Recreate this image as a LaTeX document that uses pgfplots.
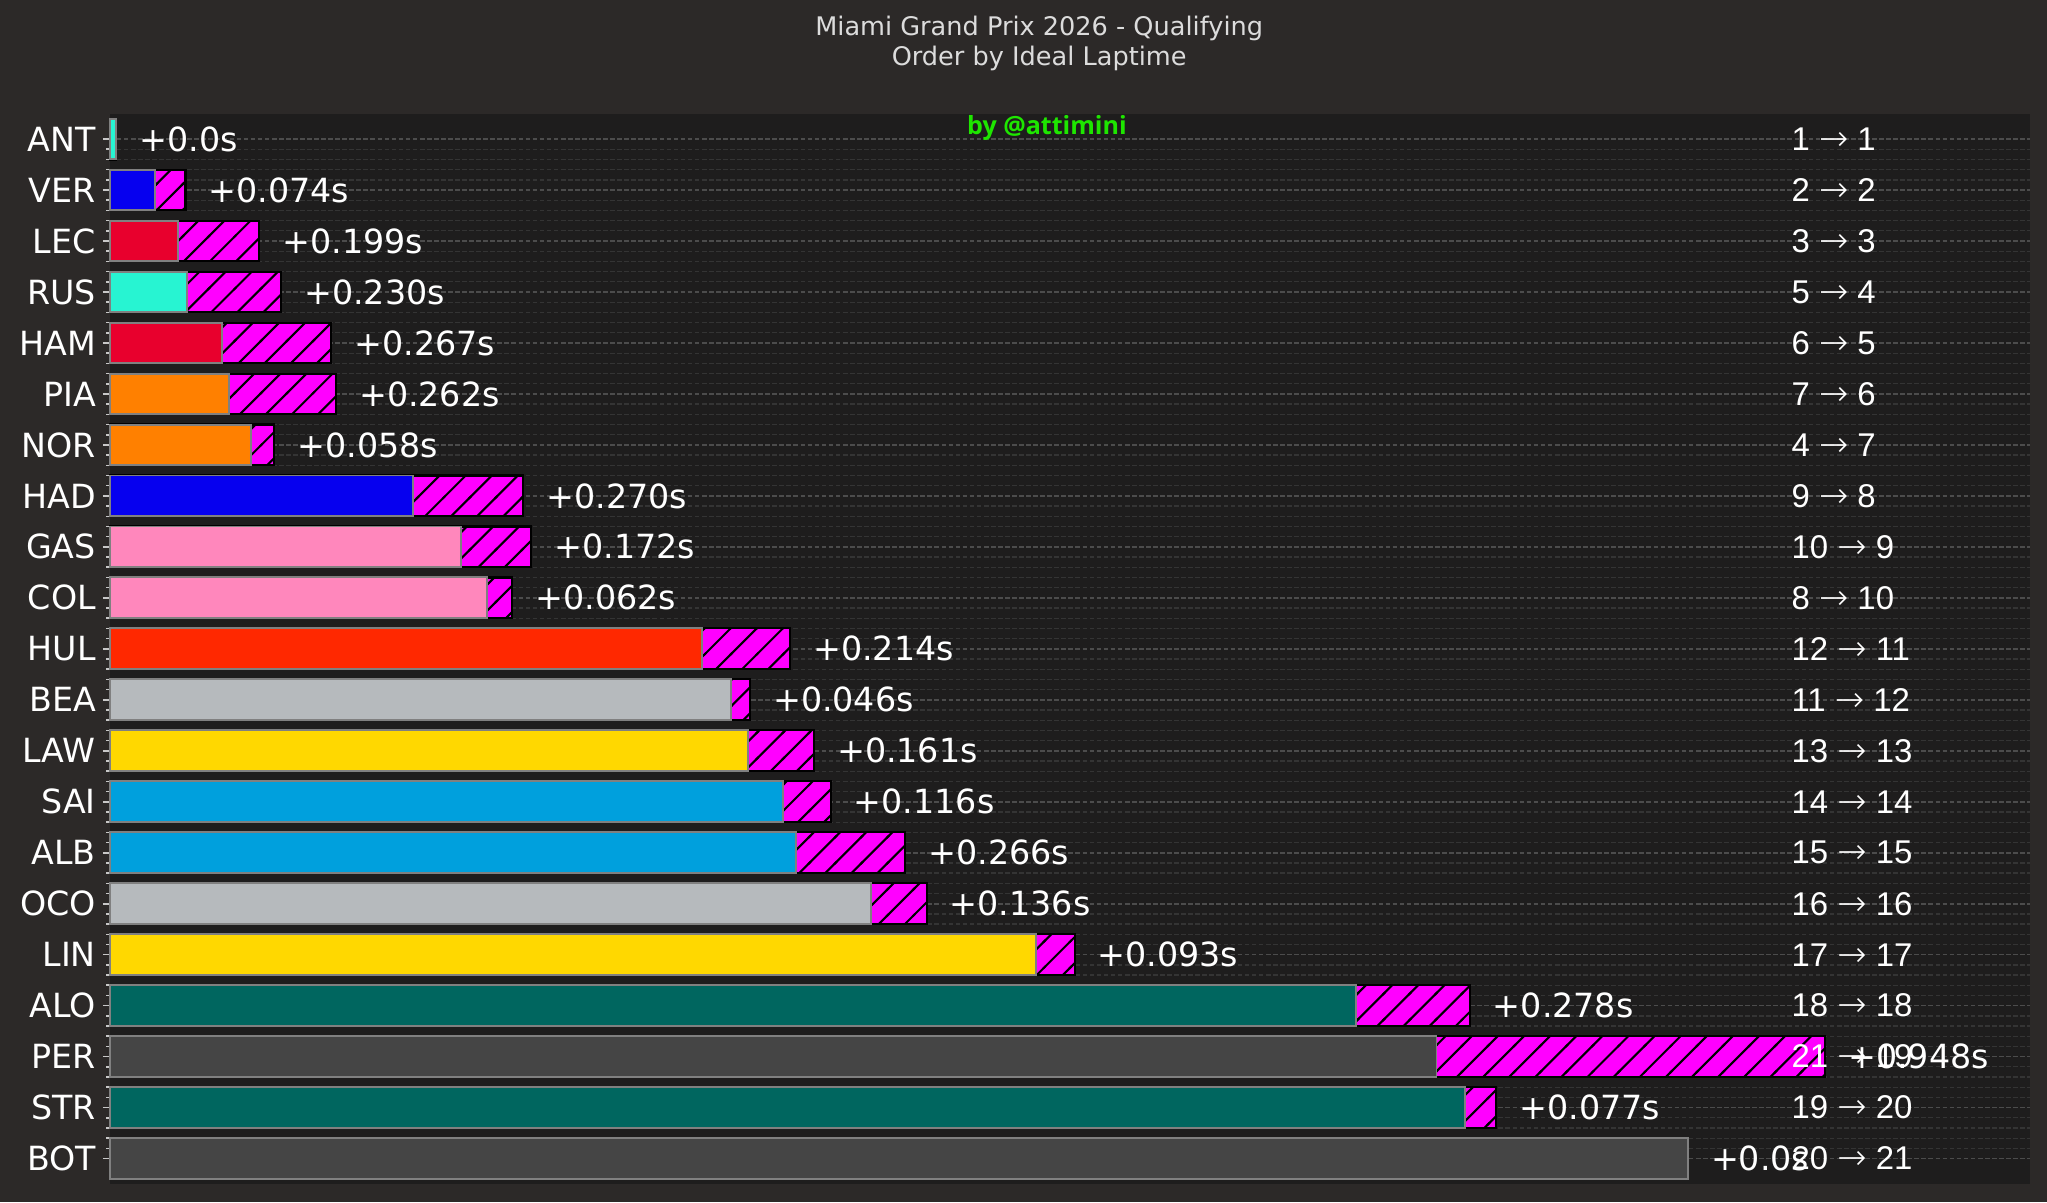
\documentclass[border=0pt]{standalone}
\usepackage{pgfplots}
\pgfplotsset{compat=1.18}
\usepackage{pgfplotstable}
\usetikzlibrary{patterns}
\usepackage{fontspec}
\setmainfont{DejaVu Sans}
\newfontfamily\libsans{Liberation Sans}
\newfontfamily\djx{DejaVu Sans ExtraLight}
\newfontfamily\credfont{Open Sans}
\DeclareRobustCommand{\arr}{{\djx\fontsize{13.4}{15}\selectfont →}}

\definecolor{figbg}{HTML}{2C2928}
\definecolor{axbg}{HTML}{1E1D1D}
\definecolor{gridmaj}{HTML}{4C4C4C}
\definecolor{gridmin}{HTML}{343434}
\definecolor{tickc}{HTML}{C8C8C8}
\definecolor{titlec}{HTML}{DCDCDC}
\definecolor{credit}{HTML}{1EE600}
\definecolor{edgec}{HTML}{808080}
\definecolor{hatchfill}{HTML}{FF00FF}
\definecolor{cMER}{HTML}{27F4D2}
\definecolor{cRBR}{HTML}{0600EF}
\definecolor{cFER}{HTML}{E8002D}
\definecolor{cMCL}{HTML}{FF8000}
\definecolor{cALP}{HTML}{FF87BC}
\definecolor{cAUD}{HTML}{FF2800}
\definecolor{cHAA}{HTML}{B6BABD}
\definecolor{cRB}{HTML}{FFD800}
\definecolor{cWIL}{HTML}{00A0DD}
\definecolor{cAST}{HTML}{00665F}
\definecolor{cCAD}{HTML}{454545}

\pgfdeclarepatternformonly{hatchne}{\pgfqpoint{-1pt}{-1pt}}{\pgfqpoint{11pt}{11pt}}{\pgfqpoint{10pt}{10pt}}{%
  \pgfsetlinewidth{0.8pt}%
  \pgfpathmoveto{\pgfqpoint{-0.5pt}{-0.5pt}}%
  \pgfpathlineto{\pgfqpoint{10.5pt}{10.5pt}}%
  \pgfusepath{stroke}}

% y  base  delta  label
\pgfplotstableread{
y base delta label
0 0.016 0.000 +0.0s
1 0.111 0.074 +0.074s
2 0.166 0.199 +0.199s
3 0.188 0.230 +0.230s
4 0.274 0.267 +0.267s
5 0.290 0.262 +0.262s
6 0.344 0.058 +0.058s
7 0.739 0.270 +0.270s
8 0.857 0.172 +0.172s
9 0.920 0.062 +0.062s
10 1.446 0.214 +0.214s
11 1.516 0.046 +0.046s
12 1.557 0.161 +0.161s
13 1.643 0.116 +0.116s
14 1.675 0.266 +0.266s
15 1.857 0.136 +0.136s
16 2.261 0.093 +0.093s
17 3.040 0.278 +0.278s
18 3.237 0.948 +0.948s
19 3.306 0.077 +0.077s
20 3.850 0.000 +0.0s
}\drivers

\pgfplotstableread[col sep=comma]{
x,y,rank
4.102,0,1 \arr{} 1
4.102,1,2 \arr{} 2
4.102,2,3 \arr{} 3
4.102,3,5 \arr{} 4
4.102,4,6 \arr{} 5
4.102,5,7 \arr{} 6
4.102,6,4 \arr{} 7
4.102,7,9 \arr{} 8
4.102,8,10 \arr{} 9
4.102,9,8 \arr{} 10
4.102,10,12 \arr{} 11
4.102,11,11 \arr{} 12
4.102,12,13 \arr{} 13
4.102,13,14 \arr{} 14
4.102,14,15 \arr{} 15
4.102,15,16 \arr{} 16
4.102,16,17 \arr{} 17
4.102,17,18 \arr{} 18
4.102,18,21 \arr{} 19
4.102,19,19 \arr{} 20
4.102,20,20 \arr{} 21
}\ranks

\begin{document}
\begin{tikzpicture}
\fill[figbg] (-42pt,-7pt) rectangle (742pt,453.5pt);
\begin{axis}[
  at={(0pt,0pt)}, anchor=south west,
  scale only axis, width=735.5pt, height=410pt,
  xmin=0, xmax=4.685, ymin=-0.5, ymax=20.5, y dir=reverse,
  axis background/.style={fill=axbg},
  axis line style={draw=none},
  xtick=\empty,
  ytick={0,...,20},
  yticklabels={ANT,VER,LEC,RUS,HAM,PIA,NOR,HAD,GAS,COL,HUL,BEA,LAW,SAI,ALB,OCO,LIN,ALO,PER,STR,BOT},
  ytick pos=left,
  minor y tick num=4,
  tick align=outside,
  major tick length=2.6pt, minor tick length=1.4pt,
  tick style={color=tickc, line width=0.6pt},
  yticklabel style={font=\fontsize{12.75}{15}\selectfont, text=white, inner sep=0pt, xshift=-2.5pt},
  ymajorgrids, yminorgrids,
  major grid style={color=gridmaj, line width=0.6pt, dash pattern=on 1.8pt off 0.9pt},
  minor grid style={color=gridmin, line width=0.5pt, dash pattern=on 1.8pt off 0.9pt},
  clip=false,
]
% hatched part (from 0 to base+delta; left part is covered by the base bar)
\addplot[xbar, bar width=0.8, bar shift=0pt, fill=hatchfill, draw=black, line width=0.8pt,
  postaction={pattern=hatchne, pattern color=black},
  nodes near coords, point meta=explicit symbolic,
  nodes near coords style={anchor=west, inner sep=0pt, xshift=8.5pt, text=white, font=\fontsize{12.75}{15}\selectfont}]
  table[x expr=\thisrow{base}+\thisrow{delta}, y=y, meta=label]{\drivers};
% base bars
\pgfplotsset{basebar/.style={xbar, bar width=0.8, bar shift=0pt, draw=edgec, line width=0.75pt, fill=#1}}
\addplot[basebar=cMER] coordinates {(0.016,0)};
\addplot[basebar=cRBR] coordinates {(0.111,1)};
\addplot[basebar=cFER] coordinates {(0.166,2)};
\addplot[basebar=cMER] coordinates {(0.188,3)};
\addplot[basebar=cFER] coordinates {(0.274,4)};
\addplot[basebar=cMCL] coordinates {(0.290,5)};
\addplot[basebar=cMCL] coordinates {(0.344,6)};
\addplot[basebar=cRBR] coordinates {(0.739,7)};
\addplot[basebar=cALP] coordinates {(0.857,8)};
\addplot[basebar=cALP] coordinates {(0.920,9)};
\addplot[basebar=cAUD] coordinates {(1.446,10)};
\addplot[basebar=cHAA] coordinates {(1.516,11)};
\addplot[basebar=cRB] coordinates {(1.557,12)};
\addplot[basebar=cWIL] coordinates {(1.643,13)};
\addplot[basebar=cWIL] coordinates {(1.675,14)};
\addplot[basebar=cHAA] coordinates {(1.857,15)};
\addplot[basebar=cRB] coordinates {(2.261,16)};
\addplot[basebar=cAST] coordinates {(3.040,17)};
\addplot[basebar=cCAD] coordinates {(3.237,18)};
\addplot[basebar=cAST] coordinates {(3.306,19)};
\addplot[basebar=cCAD] coordinates {(3.850,20)};
% rank change texts
\addplot[draw=none, mark=none, nodes near coords, point meta=explicit symbolic,
  nodes near coords style={anchor=west, inner sep=0pt, text=white, font=\libsans\fontsize{12.6}{15}\selectfont}]
  table[x=x, y=y, meta=rank, col sep=comma]{\ranks};
\end{axis}
\node[anchor=base, text=titlec, font=\fontsize{9.8}{11.5}\selectfont, inner sep=0pt] at (356pt,440pt) {Miami Grand Prix 2026 - Qualifying};
\node[anchor=base, text=titlec, font=\fontsize{9.8}{11.5}\selectfont, inner sep=0pt] at (356pt,428.5pt) {Order by Ideal Laptime};
\node[anchor=base, text=credit, font=\credfont\bfseries\fontsize{9.6}{12}\selectfont, inner sep=0pt] at (359pt,402pt) {by @attimini};
\pgfresetboundingbox
\path (-42pt,-7pt) rectangle (742pt,453.5pt);
\end{tikzpicture}
\end{document}
